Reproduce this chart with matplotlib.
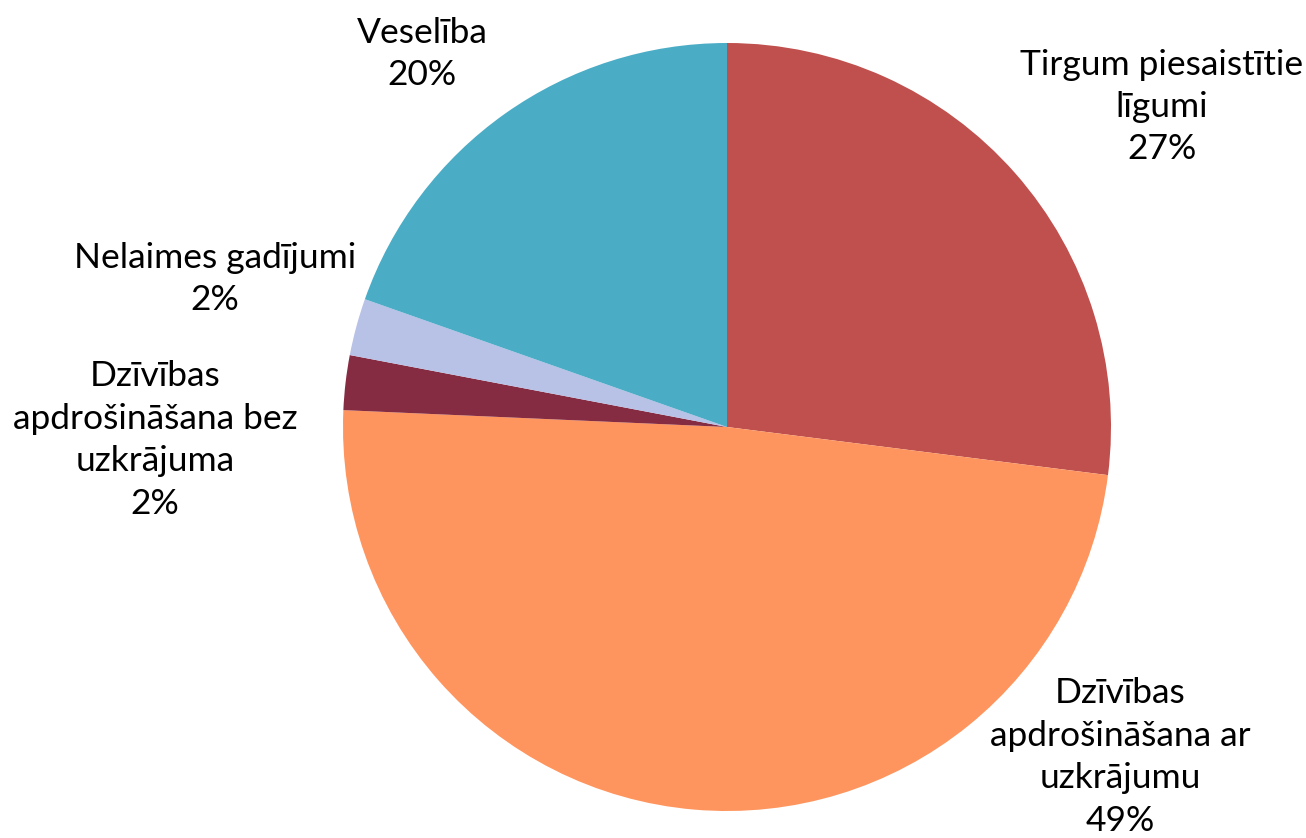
import matplotlib
matplotlib.use("Agg")
import matplotlib.pyplot as plt

# Data (slice shares; percent labels as printed)
categories = [
    "Tirgum piesaistītie\nlīgumi",
    "Dzīvības\napdrošināšana ar\nuzkrājumu",
    "Dzīvības\napdrošināšana bez\nuzkrājuma",
    "Nelaimes gadījumi",
    "Veselība",
]
shares = [27.0, 48.7, 2.3, 2.4, 19.6]
pct_labels = ["27%", "49%", "2%", "2%", "20%"]
colors = ["#C0504D", "#FF955E", "#852B42", "#B8C1E6", "#4BACC6"]

# Layout (pixel coordinates, origin top-left)
W, H = 1306, 838
center = (727, 427)
radius = 384
label_pos = [(1162, 107), (1120, 757), (155, 440), (215, 279), (422, 54)]

plt.rcParams['font.family'] = ['Lato', 'DejaVu Sans']

fig = plt.figure(figsize=(W / 100, H / 100), dpi=100)
ax = fig.add_axes([0, 0, 1, 1])

# y axis inverted (pixel coords): startangle -90 is visually the top,
# counterclock in data space is visually clockwise
wedges, _ = ax.pie(shares, colors=colors, startangle=-90, counterclock=True,
                   center=center, radius=radius, frame=True,
                   wedgeprops=dict(linewidth=0))
ax.set_xlim(0, W)
ax.set_ylim(H, 0)
ax.set_aspect('equal')
ax.axis('off')

for cat, pct, (x, y) in zip(categories, pct_labels, label_pos):
    ax.text(x, y, cat + "\n" + pct, ha='center', va='center', fontsize=25.5,
            color='black', linespacing=1.40)

fig.savefig("out.png", dpi=100)
